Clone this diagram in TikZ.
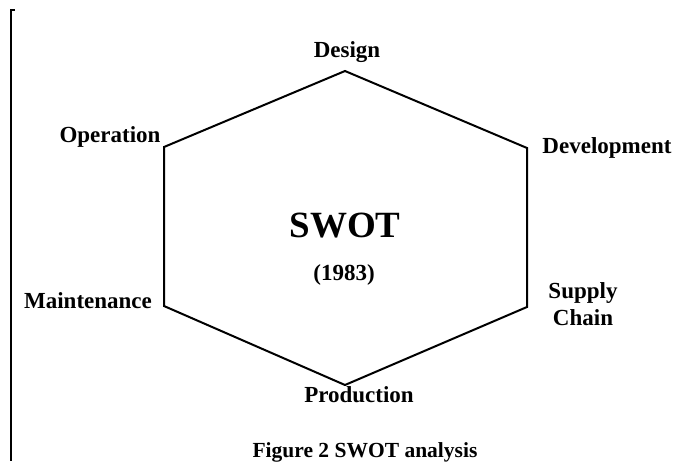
\documentclass[tikz,border=0pt]{standalone}
\usepackage{fontspec}
\setmainfont{Liberation Serif}
\begin{document}
\begin{tikzpicture}[x=1pt,y=-1pt,
  edge/.style={line width=2pt,line join=miter},
  rule/.style={line width=1.4pt},
  lbl/.style={font=\bfseries\fontsize{23}{25}\selectfont,inner sep=0pt,anchor=base},
  title/.style={font=\bfseries\fontsize{37}{40}\selectfont,inner sep=0pt,anchor=base},
  caption/.style={font=\bfseries\fontsize{21.5}{24}\selectfont,inner sep=0pt,anchor=base}]
  \path[use as bounding box] (0,0) rectangle (679,461);

  % margin rule with its small top tick
  \coordinate (rtop) at (11,10);
  \coordinate (rtick) at (15,10);
  \coordinate (rbot) at (11,461);
  \draw[rule] (rtick) -- (rtop) -- (rbot);

  % hexagon corners
  \coordinate (vt) at (345,71);
  \coordinate (vur) at (527,148);
  \coordinate (vlr) at (527,307);
  \coordinate (vb) at (345,385);
  \coordinate (vll) at (164,306);
  \coordinate (vul) at (164,147);
  \draw[edge] (vt) -- (vur) -- (vlr) -- (vb) -- (vll) -- (vul) -- cycle;

  % corner labels
  \node[lbl] (design) at (347,57) {Design};
  \node[lbl] (dev) at (607,153) {Development};
  \node[lbl] (supply) at (583,298) {Supply};
  \node[lbl] (chain) at (583,325) {Chain};
  \node[lbl] (prod) at (359,402) {Production};
  \node[lbl] (maint) at (88,308) {Maintenance};
  \node[lbl] (oper) at (110,142) {Operation};

  % centre text
  \node[title] (swot) at (345,237) {SWOT};
  \node[lbl] (year) at (344,280) {(1983)};

  % caption
  \node[caption] (cap) at (365,457) {Figure 2 SWOT analysis};
\end{tikzpicture}
\end{document}
